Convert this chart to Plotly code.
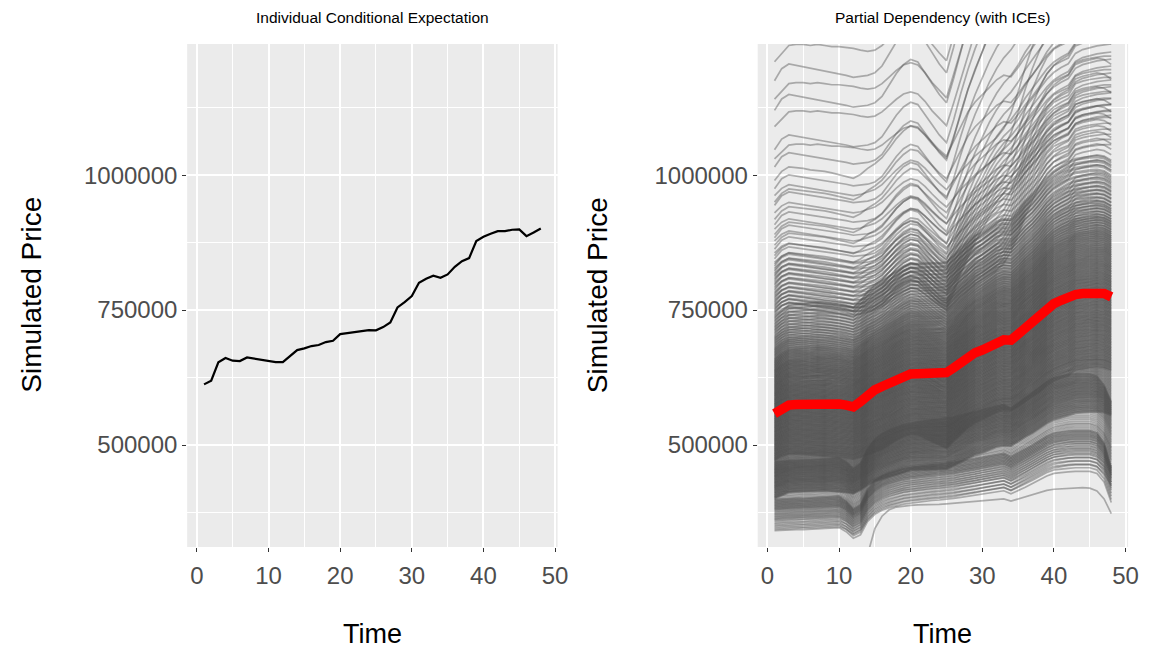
import plotly.graph_objects as go
from plotly.subplots import make_subplots

# ---------------- data (thousands of $ unless noted) ----------------
time = list(range(1, 49))

# Left panel: single ICE curve
ice_single = [612.3, 619.1, 653.1, 661.1, 656.2, 655.6, 662.3, 659.9, 657.4, 654.9,
              653.7, 653.7, 664.8, 675.9, 679.0, 683.3, 685.2, 690.7, 693.2, 705.5,
              707.4, 709.3, 710.5, 713.0, 712.4, 718.5, 727.2, 754.9, 764.8, 775.9,
              800.6, 808.0, 813.6, 809.9, 816.0, 830.2, 840.7, 846.3, 877.8, 885.8,
              891.4, 896.3, 896.3, 898.8, 899.4, 887.0, 893.8, 901.2]

# Right panel: partial dependence (red)
pd_curve = [558.3, 566.4, 573.9, 575.2, 575.8, 577.0, 578.3, 577.7, 576.4, 575.8,
            573.9, 570.8, 580.2, 592.7, 602.1, 608.4, 614.7, 620.9, 627.2, 631.6,
            632.2, 632.8, 632.8, 632.8, 634.1, 642.9, 652.2, 662.9, 671.0, 676.0,
            683.6, 691.7, 694.8, 694.2, 705.5, 718.0, 727.4, 740.0, 752.5, 761.9,
            768.1, 774.4, 778.8, 780.7, 781.9, 782.6, 780.7, 774.4]

# Reference ICE curves (one per family of look-alike lines)
low_a = [360, 361, 362, 362, 362, 363, 363, 364, 366, 366, 358, 345, 352, 378, 392, 400,
         405, 409, 412, 414, 416, 418, 419, 420, 421, 423, 425, 427, 429, 431, 433, 436,
         438, 432, 438, 445, 452, 460, 467, 472, 474, 475, 476, 476, 476, 472, 455, 415]
low_b = [380, 381, 382, 382, 383, 383, 384, 385, 386, 386, 380, 370, 378, 400, 414, 422,
         428, 432, 436, 438, 440, 442, 443, 444, 445, 447, 450, 452, 455, 458, 461, 464,
         466, 460, 468, 476, 484, 492, 500, 506, 509, 511, 512, 512, 512, 508, 495, 470]
mid_b = [700, 712, 718, 717, 716, 714, 713, 712, 710, 708, 706, 703, 708, 716, 722, 730,
         742, 755, 765, 772, 770, 760, 750, 740, 732, 752, 772, 790, 803, 812, 822, 832,
         838, 836, 848, 862, 874, 888, 905, 918, 926, 932, 948, 952, 955, 957, 955, 948]
upper_a = [950, 968, 975, 973, 970, 968, 966, 964, 962, 960, 958, 955, 956, 958, 962, 972,
           990, 1008, 1022, 1030, 1026, 1010, 992, 975, 962, 1000, 1045, 1085, 1120, 1150,
           1180, 1205, 1225, 1240, 1260, 1285, 1305, 1325, 1345, 1360, 1370, 1378, 1400,
           1408, 1412, 1416, 1418, 1420]
upper_b = [850, 862, 868, 866, 864, 862, 860, 858, 856, 855, 853, 850, 852, 856, 860, 868,
           880, 892, 902, 908, 905, 895, 882, 870, 860, 875, 890, 902, 915, 925, 935, 945,
           960, 985, 1020, 1060, 1095, 1125, 1150, 1165, 1172, 1178, 1200, 1205, 1208, 1210,
           1212, 1212]
top_curve = [1120, 1135, 1148, 1150, 1150, 1148, 1150, 1148, 1146, 1146, 1145, 1143, 1140,
             1138, 1140, 1148, 1160, 1172, 1182, 1186, 1182, 1168, 1150, 1135, 1122, 1165,
             1210, 1260, 1300, 1340, 1375, 1405, 1430, 1445, 1470, 1500, 1525, 1545, 1565,
             1580, 1590, 1598, 1620, 1628, 1632, 1636, 1638, 1640]
outlier_curve = [270, 270, 270, 270, 270, 270, 270, 270, 270, 270, 270, 268, 250, 300, 345,
                 368, 380, 385, 387, 388, 389, 389, 390, 390, 391, 392, 393, 394, 395, 396,
                 397, 398, 400, 396, 400, 404, 408, 412, 416, 418, 419, 420, 421, 421, 420,
                 415, 400, 373]

# Start levels (value at Time = 1) of the ICE lines: counts per 20k band + sparse top lines
band_starts = [340, 360, 380, 400, 420, 440, 460, 480, 500, 520, 540, 560, 580, 600, 620,
               640, 660, 680, 700, 720, 740, 760, 780, 800, 820]
band_counts = [8, 12, 18, 24, 28, 30, 28, 28, 28, 28, 28, 28, 27, 26, 25,
               22, 17, 13, 11, 10, 9, 8, 7, 7, 6]
sparse_levels = [845, 851, 856, 863, 870, 878, 884, 890, 900, 908, 918, 930, 944, 950,
                 962, 975, 990, 1015, 1030, 1047, 1090, 1120, 1141, 1175, 1210]

y_tickvals = [500000, 750000, 1000000]
y_ticktext = ["500000", "750000", "1000000"]
x_tickvals = [0, 10, 20, 30, 40, 50]
y_range = [311000, 1243000]
x_range = [-1.35, 50.35]

# ---------------- build ICE lines ----------------
levels = []
for lo, n in zip(band_starts, band_counts):
    for k in range(n):
        levels.append(lo + (k + 0.5) * 20.0 / n)
levels += sparse_levels


def family(level, idx):
    if level < 400:
        return [low_a, low_b][idx % 2]
    if level < 470:
        return [low_b, pd_curve, pd_curve][idx % 3]
    if level < 740:
        return [pd_curve, mid_b, pd_curve][idx % 3]
    if level < 1000:
        return [mid_b, upper_b, upper_a][idx % 3]
    return [top_curve, upper_a][idx % 2]


ice_lines = []
for i, lv in enumerate(levels):
    ref = family(lv, i)
    ice_lines.append([lv * v / ref[0] * 1000 for v in ref])
ice_lines.append([v * 1000 for v in outlier_curve])

# ---------------- figure ----------------
fig = make_subplots(rows=1, cols=2)

fig.add_trace(go.Scatter(x=time, y=[v * 1000 for v in ice_single], mode="lines",
                         line=dict(color="black", width=2.2), showlegend=False,
                         hoverinfo="skip"), row=1, col=1)

for line in ice_lines:
    fig.add_trace(go.Scatter(x=time, y=line, mode="lines",
                             line=dict(color="rgba(77,77,77,0.42)", width=1.7),
                             showlegend=False, hoverinfo="skip"), row=1, col=2)

fig.add_trace(go.Scatter(x=time, y=[v * 1000 for v in pd_curve], mode="lines",
                         line=dict(color="#ff0000", width=9.5), showlegend=False,
                         hoverinfo="skip"), row=1, col=2)

W, H = 1150, 650
xd1 = [189 / W, 563 / W]
xd2 = [765 / W, 1139 / W]
yd = [1 - 547 / H, 1 - 44 / H]

FONT = "Liberation Sans"
axis_common = dict(
    showgrid=True, gridcolor="white", gridwidth=1.6, zeroline=False,
    ticks="outside", ticklen=4, tickwidth=1.1, tickcolor="#333333",
    tickfont=dict(family=FONT, size=24, color="#4d4d4d"),
    showline=False, mirror=False,
)

for ax, dom in (("xaxis", xd1), ("xaxis2", xd2)):
    fig.layout[ax].update(domain=dom, range=x_range, tickvals=x_tickvals,
                          ticklabelstandoff=3,
                          minor=dict(tickvals=[5, 15, 25, 35, 45], showgrid=True,
                                     gridcolor="white", gridwidth=0.8, ticks=""),
                          **axis_common)
for ax in ("yaxis", "yaxis2"):
    fig.layout[ax].update(domain=yd, range=y_range, tickvals=y_tickvals,
                          ticktext=y_ticktext,
                          minor=dict(tickvals=[375000, 625000, 875000, 1125000],
                                     showgrid=True, gridcolor="white", gridwidth=0.8,
                                     ticks=""),
                          **axis_common)

ann = []
for cx, title in ((376, "Individual Conditional Expectation"),
                  (952, "Partial Dependency (with ICEs)")):
    ann.append(dict(x=cx / W, y=1 - 18 / H, xref="paper", yref="paper", text=title,
                    showarrow=False, font=dict(family=FONT, size=15.5, color="black"),
                    xanchor="center", yanchor="middle"))
    ann.append(dict(x=cx / W, y=1 - 634 / H, xref="paper", yref="paper", text="Time",
                    showarrow=False, font=dict(family=FONT, size=27, color="black"),
                    xanchor="center", yanchor="middle"))
for lx in (32, 604):
    ann.append(dict(x=lx / W, y=1 - 295 / H, xref="paper", yref="paper",
                    text="Simulated Price", textangle=-90, showarrow=False,
                    font=dict(family=FONT, size=28, color="black"),
                    xanchor="center", yanchor="middle"))

fig.update_layout(
    width=W, height=H, margin=dict(l=0, r=0, t=0, b=0),
    paper_bgcolor="white", plot_bgcolor="#ebebeb",
    annotations=ann, showlegend=False,
)

fig.write_html("out.html", config={"displayModeBar": False},
               post_script="document.body.style.margin='0px';"
                           "document.body.style.overflow='hidden';")
